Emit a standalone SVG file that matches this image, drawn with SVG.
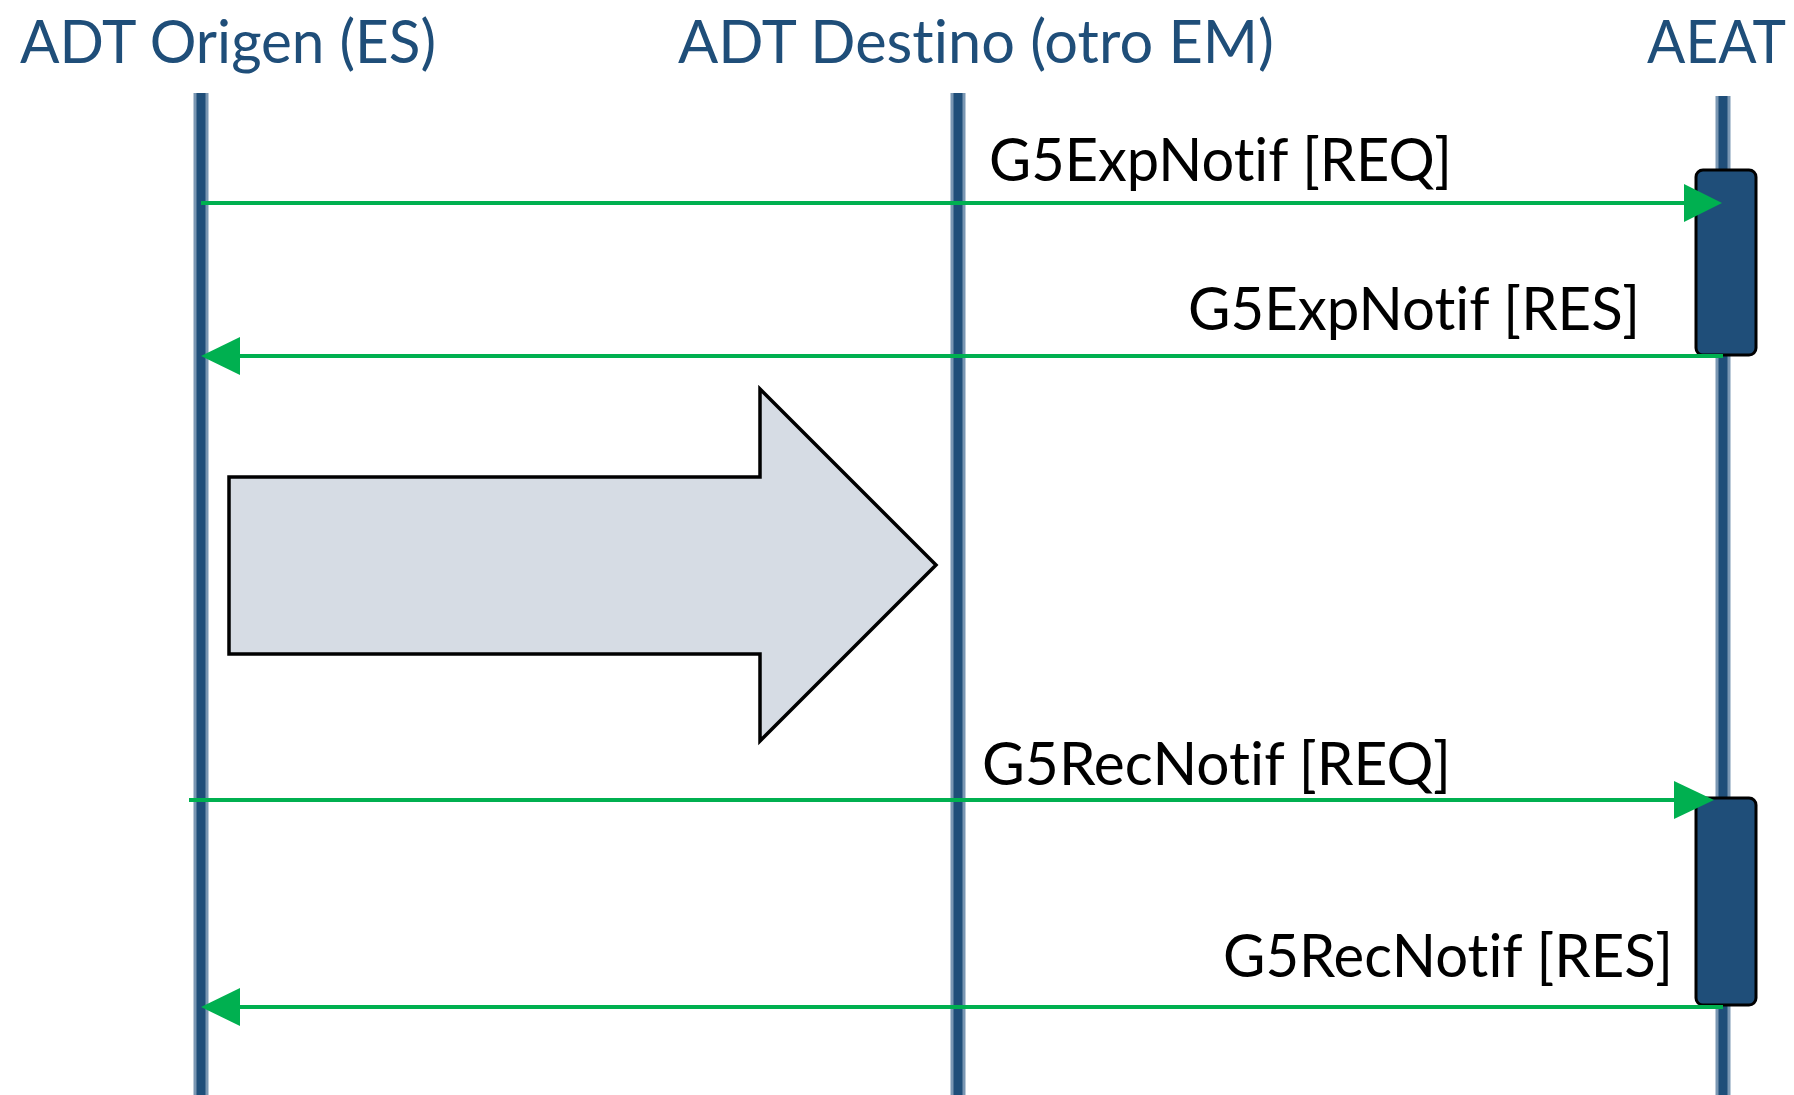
<svg xmlns="http://www.w3.org/2000/svg" width="1794" height="1095" viewBox="0 0 1794 1095">
<style>
text{font-variant-ligatures:none;font-feature-settings:"liga" 0,"clig" 0}
.title{font-family:Lato,"Open Sans","Liberation Sans",sans-serif;font-size:60px;fill:#1F4E79}
.lbl{font-family:Lato,"Open Sans","Liberation Sans",sans-serif;font-size:60px;fill:#000}
.ll-out{stroke:#7A97B3;stroke-width:15;fill:none}
.ll-in{stroke:#1F4E79;stroke-width:9;fill:none}
.act{fill:#1F4E79;stroke:#000;stroke-width:3}
.msg{stroke:#00B050;stroke-width:4;fill:none}
.head{fill:#00B050}
</style>
<rect width="1794" height="1095" fill="#fff"/>
<g id="lifeline-origen">
<line class="ll-out" x1="201" y1="93" x2="201" y2="1095"/>
<line class="ll-in" x1="201" y1="93" x2="201" y2="1095"/>
<text class="title" x="20" y="63" textLength="416" lengthAdjust="spacingAndGlyphs">ADT Origen (ES)</text>
</g>
<g id="lifeline-destino">
<line class="ll-out" x1="958" y1="93" x2="958" y2="1095"/>
<line class="ll-in" x1="958" y1="93" x2="958" y2="1095"/>
<text class="title" x="678" y="63" textLength="596" lengthAdjust="spacingAndGlyphs">ADT Destino (otro EM)</text>
</g>
<g id="lifeline-aeat">
<line class="ll-out" x1="1723" y1="96" x2="1723" y2="1095"/>
<line class="ll-in" x1="1723" y1="96" x2="1723" y2="1095"/>
<text class="title" x="1647" y="63" textLength="139" lengthAdjust="spacingAndGlyphs">AEAT</text>
</g>
<g id="activation-1">
<rect class="act" x="1696" y="170" width="60" height="185" rx="7"/>
</g>
<g id="activation-2">
<rect class="act" x="1696" y="798" width="60" height="207" rx="7"/>
</g>
<g id="big-arrow">
<polygon points="229,477 760,477 760,389 936,565 760,741 760,654 229,654" fill="#D6DCE4" stroke="#000" stroke-width="3.5" stroke-linejoin="miter"/>
</g>
<g id="connectors">
<line class="msg" x1="201" y1="203" x2="1686" y2="203"/>
<polygon class="head" points="1684,184 1722,203 1684,222"/>
<line class="msg" x1="1723" y1="356" x2="238" y2="356"/>
<polygon class="head" points="240,337 201,356 240,375"/>
<line class="msg" x1="189" y1="800" x2="1676" y2="800"/>
<polygon class="head" points="1674,781 1714,800 1674,819"/>
<line class="msg" x1="1723" y1="1007" x2="238" y2="1007"/>
<polygon class="head" points="240,988 201,1007 240,1026"/>
</g>
<g id="labels">
<text class="lbl" x="989" y="181" textLength="463" lengthAdjust="spacingAndGlyphs">G5ExpNotif [REQ]</text>
<text class="lbl" x="1188" y="330" textLength="452" lengthAdjust="spacingAndGlyphs">G5ExpNotif [RES]</text>
<text class="lbl" x="982" y="785" textLength="469" lengthAdjust="spacingAndGlyphs">G5RecNotif [REQ]</text>
<text class="lbl" x="1223" y="977" textLength="450" lengthAdjust="spacingAndGlyphs">G5RecNotif [RES]</text>
</g>
</svg>
